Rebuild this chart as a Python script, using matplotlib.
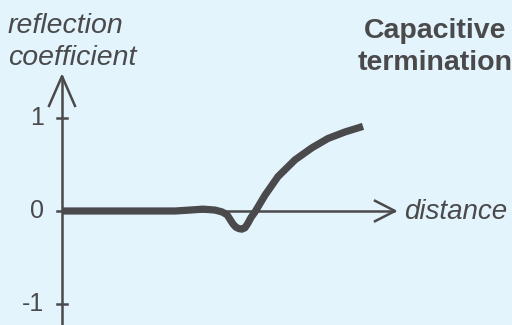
import matplotlib
matplotlib.use("Agg")
import matplotlib.pyplot as plt

# data: distance (arbitrary units) vs reflection coefficient
distance = [0.0, 0.5, 0.88, 1.13, 1.28, 1.41, 1.53, 1.60, 1.65, 1.68, 1.71, 1.74, 1.77,
            1.80, 1.83, 1.86, 1.89, 1.93, 1.98, 2.03, 2.16, 2.33, 2.50, 2.66, 2.83, 3.01]
reflection = [0.0, 0.0, 0.0, 0.0, 0.01, 0.02, 0.01, -0.01, -0.04, -0.09, -0.14, -0.175, -0.19,
              -0.195, -0.18, -0.13, -0.07, -0.01, 0.08, 0.17, 0.37, 0.55, 0.68, 0.78, 0.85, 0.91]
y_ticks = [1, 0, -1]
y_tick_labels = ["1", "0", "-1"]

bg = "#e4f4fc"
fg = "#4a4a4c"
font = "Liberation Sans"

fig = plt.figure(figsize=(5.12, 3.25), dpi=100, facecolor=bg)
ax = fig.add_axes([0, 0, 1, 1], facecolor=bg)
ax.set_xlim(-0.62, 4.50)
ax.set_ylim(-1.226, 2.269)
ax.axis("off")

# axes lines
ax.plot([0, 3.33], [0, 0], color=fg, lw=1.8, solid_capstyle="butt", zorder=2)
ax.plot([0, 0], [-1.3, 1.45], color=fg, lw=1.8, solid_capstyle="butt", zorder=2)
# arrowheads (open)
ax.plot([3.13, 3.33, 3.13], [0.11, 0, -0.11], color=fg, lw=1.8, zorder=2)
ax.plot([-0.13, 0, 0.13], [1.13, 1.45, 1.13], color=fg, lw=1.8, zorder=2)

# ticks
for t, lab in zip(y_ticks, y_tick_labels):
    ax.plot([-0.05, 0.05], [t, t], color=fg, lw=1.8, zorder=2)
    ax.text(-0.18, t, lab, ha="right", va="center", fontsize=18, color=fg, family=font)

# curve
ax.plot(distance, reflection, color=fg, lw=5.2, solid_capstyle="butt",
        solid_joinstyle="round", zorder=3)

# labels
ax.text(-0.54, 1.57, "reflection\ncoefficient", ha="left", va="baseline", fontsize=20.5,
        style="italic", color=fg, family=font, linespacing=1.3)
ax.text(3.42, -0.09, "distance", ha="left", va="baseline", fontsize=20,
        style="italic", color=fg, family=font)
ax.text(3.73, 1.516, "Capacitive\ntermination", ha="center", va="baseline", fontsize=20.5,
        weight="bold", color=fg, family=font, linespacing=1.3)

fig.savefig("out.png", dpi=100, facecolor=bg)
